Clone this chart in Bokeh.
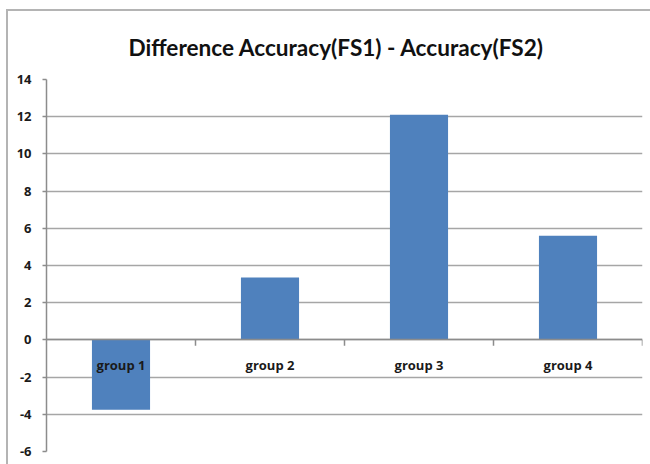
from bokeh.plotting import figure
from bokeh.models import FixedTicker, ColumnDataSource, Range1d
from bokeh.transform import dodge
from bokeh.embed import file_html
from bokeh.resources import INLINE

groups = ["group 1", "group 2", "group 3", "group 4"]
diff = [-3.75, 3.35, 12.1, 5.6]
y_ticks = [-6, -4, -2, 0, 2, 4, 6, 8, 10, 12, 14]
title_text = "Difference Accuracy(FS1) - Accuracy(FS2)"

src = ColumnDataSource(dict(group=groups, diff=diff, zero=[0] * 4, tick=[-0.32] * 4))

p = figure(x_range=groups, y_range=Range1d(-6, 14), width=650, height=464,
           output_backend="svg", toolbar_location=None, title=title_text,
           min_border_left=46, min_border_right=8, min_border_bottom=13, min_border_top=79)
p.border_fill_color = None
p.background_fill_color = None

p.vbar(x="group", top="diff", bottom=0, width=0.39, source=src,
       fill_color="#4f81bd", line_color=None)
p.segment(x0=dodge("group", 0.5, range=p.x_range), y0="zero",
          x1=dodge("group", 0.5, range=p.x_range), y1="tick", source=src,
          line_color="#8c8c8c", line_width=1.5)

p.title.align = "left"
p.title.offset = 82
p.title.text_font = "Lato"
p.title.text_font_size = "22.6px"
p.title.text_font_style = "bold"
p.title.text_color = "#111111"
p.title.standoff = 37

p.outline_line_color = None
p.xgrid.grid_line_color = None
p.ygrid.grid_line_color = "#a6a6a6"
p.ygrid.grid_line_width = 1.5

p.yaxis.ticker = FixedTicker(ticks=y_ticks)
p.yaxis.major_label_overrides = {t: str(t) for t in y_ticks}
p.yaxis.axis_line_color = "#8c8c8c"
p.yaxis.axis_line_width = 1.5
p.yaxis.major_tick_line_color = "#8c8c8c"
p.yaxis.major_tick_line_width = 1.5
p.yaxis.major_tick_out = 4
p.yaxis.major_tick_in = 0
p.yaxis.minor_tick_line_color = None
p.yaxis.major_label_text_font = "Open Sans"
p.yaxis.major_label_text_font_style = "bold"
p.yaxis.major_label_text_font_size = "13px"
p.yaxis.major_label_text_color = "#1a1a1a"
p.yaxis.major_label_standoff = 11

p.xaxis.fixed_location = 0
p.xaxis.axis_line_color = "#8c8c8c"
p.xaxis.axis_line_width = 1.5
p.xaxis.major_tick_line_color = None
p.xaxis.minor_tick_line_color = None
p.xaxis.major_label_text_font = "Open Sans"
p.xaxis.major_label_text_font_style = "bold"
p.xaxis.major_label_text_font_size = "13px"
p.xaxis.major_label_text_color = "#1a1a1a"
p.xaxis.major_label_standoff = 10

p.styles = {"background": "linear-gradient(#b4b4b4, #b4b4b4) 6px 9px / 2px 100% no-repeat, "
                          "linear-gradient(#b4b4b4, #b4b4b4) 6px 9px / 100% 2px no-repeat, white"}

open("out.html", "w").write(file_html(p, INLINE))
